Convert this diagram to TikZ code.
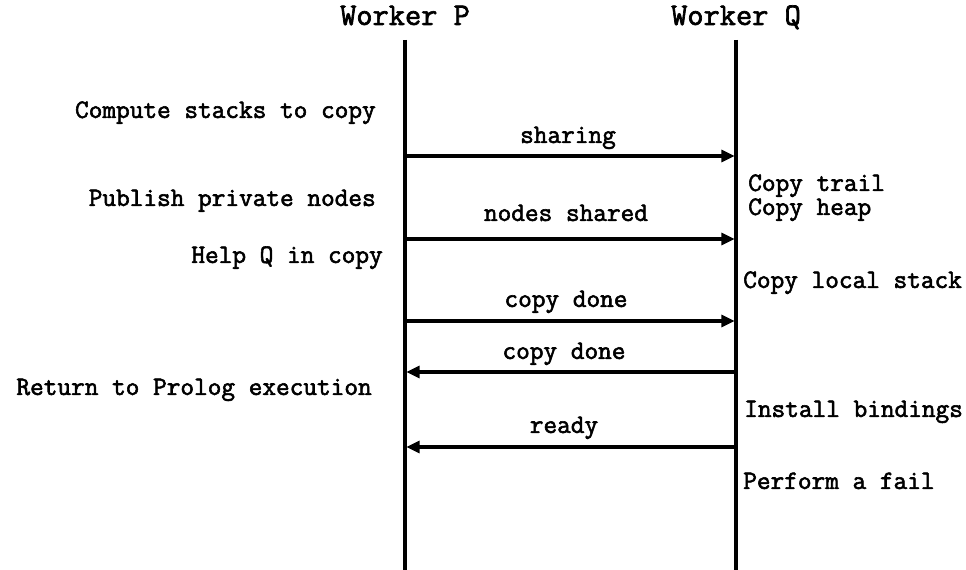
\documentclass[tikz,border=0pt]{standalone}
\usepackage{fontspec}
\newfontfamily\courb{Latin Modern Mono}[FakeBold=2.2]
\usetikzlibrary{arrows.meta}
\begin{document}
\begin{tikzpicture}[x=0.75pt,y=-0.75pt,
  txt/.style={inner sep=0pt,text height=0.62em,text depth=0.18em,font=\courb\fontsize{19.9}{22}\selectfont},
  head/.style={inner sep=0pt,text height=0.62em,text depth=0.18em,font=\courb\fontsize{23.6}{26}\selectfont},
  life/.style={line width=2.3pt},
  msg/.style={line width=2.3pt,-{Triangle[length=10pt,width=9pt]}, shorten >=1pt}]
\useasboundingbox (0,0) rectangle (966,570);
% headers
\node[head] (hp) at (405,22) {Worker P};
\node[head] (hq) at (736,22) {Worker Q};
% lifelines
\coordinate (pt) at (405,40);
\coordinate (pb) at (405,570);
\coordinate (qt) at (736,40);
\coordinate (qb) at (736,570);
\draw[life] (pt) -- (pb);
\draw[life] (qt) -- (qb);
% message endpoints
\coordinate (p1) at (405,156); \coordinate (q1) at (736,156);
\coordinate (p2) at (405,239); \coordinate (q2) at (736,239);
\coordinate (p3) at (405,321); \coordinate (q3) at (736,321);
\coordinate (p4) at (405,372); \coordinate (q4) at (736,372);
\coordinate (p5) at (405,447); \coordinate (q5) at (736,447);
\draw[msg] (p1) -- (q1);
\draw[msg] (p2) -- (q2);
\draw[msg] (p3) -- (q3);
\draw[msg] (q4) -- (p4);
\draw[msg] (q5) -- (p5);
% message labels
\node[txt] (l1) at (568,140) {sharing};
\node[txt] (l2) at (566,218) {nodes shared};
\node[txt] (l3) at (566,304) {copy done};
\node[txt] (l4) at (564,356) {copy done};
\node[txt] (l5) at (564,430) {ready};
% left annotations
\node[txt,anchor=east] (a1) at (376,115) {Compute stacks to copy};
\node[txt,anchor=east] (a2) at (376,203) {Publish private nodes};
\node[txt,anchor=east] (a3) at (383,260) {Help Q in copy};
\node[txt,anchor=east] (a4) at (372,392) {Return to Prolog execution};
% right annotations
\node[txt,anchor=west] (b1) at (748,188) {Copy trail};
\node[txt,anchor=west] (b2) at (748,212) {Copy heap};
\node[txt,anchor=west] (b3) at (743,285) {Copy local stack};
\node[txt,anchor=west] (b4) at (744,414) {Install bindings};
\node[txt,anchor=west] (b5) at (743,486) {Perform a fail};
\end{tikzpicture}
\end{document}
